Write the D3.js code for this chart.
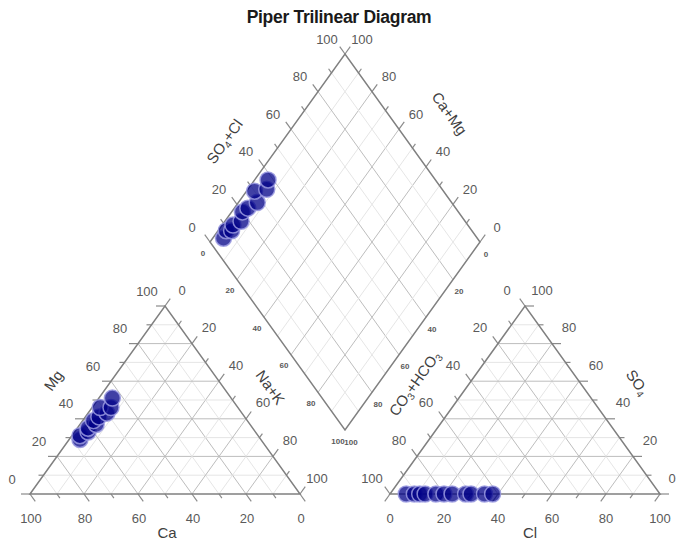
<!DOCTYPE html>
<html><head><meta charset="utf-8">
<script src="https://cdn.jsdelivr.net/npm/d3@7"></script>
<style>body{margin:0;background:#fff}svg{display:block}</style>
</head><body>
<svg id="chart" width="679" height="542"></svg>
<script>
// ---------- data (percent of meq) ----------
const sampleIds = ["S1","S2","S3","S4","S5","S6","S7","S8","S9","S10","S11"];
const mgPct   = [29, 31, 33, 35, 37, 39, 41, 43, 46, 46, 51];
const naKPct  = [4, 3, 5, 4, 6, 4, 5, 7, 3, 7, 5];
const caPct   = [67, 66, 62, 61, 57, 57, 54, 50, 51, 47, 44];
const clPct   = [6, 9, 11, 13, 17, 20, 23, 28, 30, 35, 38];
const so4Pct  = [0, 0, 0, 0, 0, 0, 0, 0, 0, 0, 0];
const hco3Pct = [94, 91, 89, 87, 83, 80, 77, 72, 70, 65, 62];
const tickValues = [0, 20, 40, 60, 80, 100];
const gridValues = [10, 20, 30, 40, 50, 60, 70, 80, 90];
const edgeTickValues = [0, 10, 20, 30, 40, 50, 60, 70, 80, 90, 100];
const titleText = "Piper Trilinear Diagram";

// ---------- layout ----------
const svg = d3.select("#chart");
const side = 270, triH = 188, leftX = 30, baseY = 494, gap = 90, diamondDrop = 64;
const xS = d3.scaleLinear().domain([0, 100]).range([0, side]);
const yS = d3.scaleLinear().domain([0, 100]).range([0, triH]);
const rightX = leftX + side + gap;
const dB = [leftX + side + gap / 2, baseY - diamondDrop];
const dL = [dB[0] - side / 2, dB[1] - triH];

// projections
const cat = (ca, mg, na) => [leftX + xS(na) + xS(mg) / 2, baseY - yS(mg)];
const ani = (hc, so, cl) => [rightX + xS(cl) + xS(so) / 2, baseY - yS(so)];
const dia = (na, c) => [dL[0] + (xS(na) + xS(c)) / 2, dL[1] + yS(na) - yS(c)];

const ang = Math.atan2(triH, side / 2) * 180 / Math.PI;
const unit = (dx, dy) => { const l = Math.hypot(dx, dy); return [dx / l, dy / l]; };
const upRight = unit(side / 2, -triH), downRight = unit(side / 2, triH);
const upLeft = [-downRight[0], -downRight[1]], downLeft = [-upRight[0], -upRight[1]];

const gGrid = svg.append("g"), gTick = svg.append("g"), gEdge = svg.append("g"),
      gText = svg.append("g"), gPts = svg.append("g");
const line = d3.line();
const gridStyle = v => (v % 20 === 0) ? {c: "#bdbdbd", w: 1} : {c: "#e2e2e2", w: 0.9};

function grid(p1, p2, v) {
  const s = gridStyle(v);
  gGrid.append("path").attr("d", line([p1, p2])).attr("stroke", s.c)
    .attr("stroke-width", s.w).attr("fill", "none");
}
function tick(p, dir, v) {
  const len = (v % 20 === 0) ? 9 : 5;
  gTick.append("path").attr("d", line([p, [p[0] + dir[0] * len, p[1] + dir[1] * len]]))
    .attr("stroke", "#8a8a8a").attr("stroke-width", 1.2).attr("fill", "none");
}
function label(p, dx, dy, txt, size, weight) {
  gText.append("text").attr("x", p[0] + dx).attr("y", p[1] + dy)
    .attr("text-anchor", "middle").attr("dominant-baseline", "central")
    .attr("font-family", "'Liberation Sans', Arial, sans-serif")
    .attr("font-size", size || 13).attr("font-weight", weight || "normal")
    .attr("fill", "#5a5a5a").text(txt);
}
function axisTitle(x, y, rot, parts) {
  const t = gText.append("text").attr("transform", `translate(${x},${y}) rotate(${rot})`)
    .attr("text-anchor", "middle").attr("dominant-baseline", "central")
    .attr("font-family", "'Liberation Sans', Arial, sans-serif")
    .attr("font-size", 15).attr("fill", "#404040");
  parts.forEach(p => {
    const ts = t.append("tspan").text(p[0]);
    if (p[1]) ts.attr("font-size", 10).attr("baseline-shift", "sub");
  });
}

// ---------- cation triangle ----------
gridValues.forEach(v => {
  grid(cat(100 - v, v, 0), cat(0, v, 100 - v), v);
  grid(cat(100 - v, 0, v), cat(0, 100 - v, v), v);
  grid(cat(v, 100 - v, 0), cat(v, 0, 100 - v), v);
});
edgeTickValues.forEach(v => {
  tick(cat(100 - v, v, 0), [-1, 0], v);
  tick(cat(0, 100 - v, v), upRight, v);
  tick(cat(v, 0, 100 - v), downRight, v);
});
gEdge.append("path").attr("d", line([cat(100,0,0), cat(0,100,0), cat(0,0,100)]) + "Z")
  .attr("fill", "none").attr("stroke", "#808080").attr("stroke-width", 1.5);
tickValues.forEach(v => {
  label(cat(100 - v, v, 0), -18, -15, v);
  label(cat(0, 100 - v, v), 17, -16, v);
  label(cat(v, 0, 100 - v), 1, 24, v);
});

// ---------- anion triangle ----------
gridValues.forEach(v => {
  grid(ani(v, 100 - v, 0), ani(v, 0, 100 - v), v);
  grid(ani(100 - v, v, 0), ani(0, v, 100 - v), v);
  grid(ani(100 - v, 0, v), ani(0, 100 - v, v), v);
});
edgeTickValues.forEach(v => {
  tick(ani(v, 100 - v, 0), upLeft, v);
  tick(ani(0, v, 100 - v), [1, 0], v);
  tick(ani(100 - v, 0, v), downLeft, v);
});
gEdge.append("path").attr("d", line([ani(100,0,0), ani(0,100,0), ani(0,0,100)]) + "Z")
  .attr("fill", "none").attr("stroke", "#808080").attr("stroke-width", 1.5);
tickValues.forEach(v => {
  label(ani(v, 100 - v, 0), -18, -16, v);
  label(ani(0, v, 100 - v), v === 0 ? 12 : 17, -16, v);
  label(ani(100 - v, 0, v), 0, 24, v);
});

// ---------- diamond ----------
gridValues.forEach(v => {
  grid(dia(v, 0), dia(v, 100), v);
  grid(dia(0, v), dia(100, v), v);
});
edgeTickValues.forEach(v => {
  tick(dia(100 - v, 100), upRight, v);
  tick(dia(0, v), upLeft, v);
});
gEdge.append("path").attr("d", line([dia(0,0), dia(0,100), dia(100,100), dia(100,0)]) + "Z")
  .attr("fill", "none").attr("stroke", "#808080").attr("stroke-width", 1.5);
tickValues.forEach(v => {
  label(dia(0, v), -18, -15, v);
  label(dia(100 - v, 100), 17, -15, v);
  label(dia(v, 0), -7, 11, v, 8, "bold");
  label(dia(100, 100 - v), 6, 12, v, 8, "bold");
});

// ---------- titles ----------
gText.append("text").attr("x", 339).attr("y", 17)
  .attr("text-anchor", "middle").attr("dominant-baseline", "central")
  .attr("font-family", "'Liberation Sans', Arial, sans-serif")
  .attr("font-size", 17.5).attr("font-weight", "bold").attr("letter-spacing", -0.3)
  .attr("fill", "#1a1a1a").text(titleText);
axisTitle(167, 532, 0, [["Ca"]]);
axisTitle(530, 532, 0, [["Cl"]]);
axisTitle(53, 380, -ang, [["Mg"]]);
axisTitle(271, 387, ang, [["Na+K"]]);
axisTitle(414, 383, -ang, [["CO"], ["3", 1], ["+HCO"], ["3", 1]]);
axisTitle(638, 382, ang, [["SO"], ["4", 1]]);
axisTitle(224, 141, -ang, [["SO"], ["4", 1], ["+Cl"]]);
axisTitle(450, 113, ang, [["Ca+Mg"]]);

// ---------- points ----------
const idx = d3.range(sampleIds.length);
const ptStyle = sel => sel.attr("r", 8).attr("fill", "#000087").attr("fill-opacity", 0.75)
  .attr("stroke", "#9a9ae0").attr("stroke-opacity", 0.85).attr("stroke-width", 1.5);
gPts.selectAll(".pc").data(idx).join("circle").attr("class", "pc")
  .attr("cx", i => cat(caPct[i], mgPct[i], naKPct[i])[0])
  .attr("cy", i => cat(caPct[i], mgPct[i], naKPct[i])[1]).call(ptStyle);
gPts.selectAll(".pa").data(idx).join("circle").attr("class", "pa")
  .attr("cx", i => ani(hco3Pct[i], so4Pct[i], clPct[i])[0])
  .attr("cy", i => ani(hco3Pct[i], so4Pct[i], clPct[i])[1]).call(ptStyle);
gPts.selectAll(".pd").data(idx).join("circle").attr("class", "pd")
  .attr("cx", i => dia(naKPct[i], clPct[i] + so4Pct[i])[0])
  .attr("cy", i => dia(naKPct[i], clPct[i] + so4Pct[i])[1]).call(ptStyle);
</script>
</body></html>
